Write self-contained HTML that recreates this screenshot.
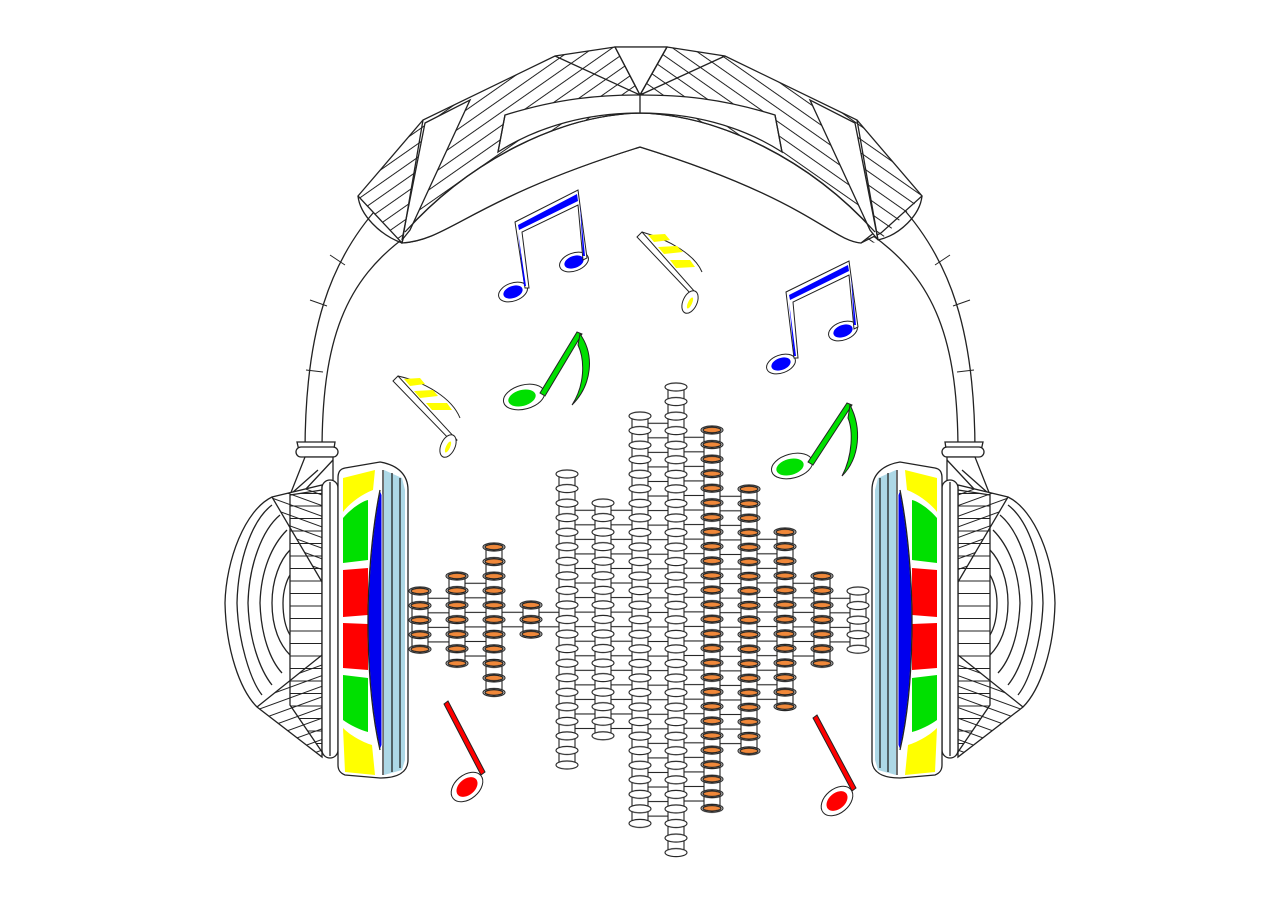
<!DOCTYPE html>
<html><head><meta charset="utf-8"><style>html,body{margin:0;padding:0;background:#fff}svg{display:block}</style></head>
<body>
<svg width="1280" height="905" viewBox="0 0 1280 905" xmlns="http://www.w3.org/2000/svg" fill="none" stroke="#222" stroke-width="1.3">
<defs>
<clipPath id="padL"><path d="M358,196 L423,120 L555,56 L615,47 L640,47 L640,140 C470,200 450,240 402,243 Z"/></clipPath>
<clipPath id="padR"><path d="M922,196 L857,120 L725,56 L667,47 L640,47 L640,140 C810,200 830,240 878,243 Z"/></clipPath>
<pattern id="hatchA" patternUnits="userSpaceOnUse" width="11" height="11" patternTransform="rotate(-35)"><line x1="0" y1="5.5" x2="11" y2="5.5" stroke="#222" stroke-width="1"/></pattern>
<pattern id="hatchB" patternUnits="userSpaceOnUse" width="11" height="11" patternTransform="rotate(35)"><line x1="0" y1="5.5" x2="11" y2="5.5" stroke="#222" stroke-width="1"/></pattern>
<pattern id="hatchC" patternUnits="userSpaceOnUse" width="10" height="10" patternTransform="rotate(-20)"><line x1="0" y1="5" x2="10" y2="5" stroke="#222" stroke-width="1"/></pattern>
<pattern id="hatchD" patternUnits="userSpaceOnUse" width="10" height="10" patternTransform="rotate(20)"><line x1="0" y1="5" x2="10" y2="5" stroke="#222" stroke-width="1"/></pattern>
<pattern id="plate" patternUnits="userSpaceOnUse" width="10" height="12.5"><line x1="0" y1="6" x2="10" y2="6" stroke="#222" stroke-width="1"/></pattern>
<pattern id="dW" patternUnits="userSpaceOnUse" width="24" height="14.55">
<ellipse cx="12" cy="0" rx="11" ry="4" fill="#fff" stroke="#222" stroke-width="1.1"/>
<ellipse cx="12" cy="14.55" rx="11" ry="4" fill="#fff" stroke="#222" stroke-width="1.1"/></pattern>
<pattern id="dO" patternUnits="userSpaceOnUse" width="24" height="14.55">
<ellipse cx="12" cy="0" rx="11" ry="4" fill="#fff" stroke="#222" stroke-width="1.1"/>
<ellipse cx="12" cy="0" rx="9" ry="2.8" fill="#f0883a"/>
<ellipse cx="12" cy="14.55" rx="11" ry="4" fill="#fff" stroke="#222" stroke-width="1.1"/>
<ellipse cx="12" cy="14.55" rx="9" ry="2.8" fill="#f0883a"/></pattern>
<pattern id="hl" patternUnits="userSpaceOnUse" width="10" height="14.55"><line x1="0" y1="7.27" x2="10" y2="7.27" stroke="#222" stroke-width="1.1"/></pattern>
</defs>
<!-- headband arms -->
<path d="M305,452 C305,330 330,260 380,205"/>
<path d="M322,452 C322,340 345,280 408,235"/>
<path d="M975,452 C975,330 950,260 900,205"/>
<path d="M958,452 C958,340 935,280 872,235"/>
<g stroke-width="1"><path d="M306,370 L323,372 M310,300 L327,306 M330,255 L345,265 M974,370 L957,372 M970,300 L953,306 M950,255 L935,265"/></g>
<!-- pad -->
<path fill="#fff" d="M358,196 L423,120 L555,56 L615,47 L667,47 L725,56 L857,120 L922,196 L881,233 L861,243 C830,240 810,200 640,147 C470,200 450,240 402,243 Z"/>
<rect x="340" y="40" width="300" height="210" fill="url(#hatchA)" stroke="none" clip-path="url(#padL)"/>
<rect x="640" y="40" width="300" height="210" fill="url(#hatchB)" stroke="none" clip-path="url(#padR)"/>
<path fill="#fff" d="M405,232 C470,160 560,115 640,113 C720,115 810,160 875,232 L861,243 C830,240 810,200 640,147 C470,200 450,240 402,243 Z"/>
<path fill="#fff" d="M498,152 L505,115 C560,98 600,95 640,95 C680,95 720,98 775,115 L782,152 C740,125 690,113 640,113 C590,113 540,125 498,152 Z"/>
<path fill="#fff" d="M615,47 L640,95 L667,47 Z"/>
<path fill="#fff" d="M425,123 L470,100 L410,230 L402,240 Z M855,123 L810,100 L870,230 L878,240 Z"/>
<path d="M402,243 C380,235 360,215 358,196 M402,243 L423,120 M878,240 L857,120 M405,232 C470,160 560,115 640,113 C720,115 810,160 875,232 M555,56 L640,95 L725,56 M615,47 L640,95 L667,47 M640,95 L640,113 M498,152 L505,115 M782,152 L775,115 M922,196 C920,215 900,235 878,240"/>
<!-- equalizer connectors -->
<g stroke="none">
<rect transform="translate(428,591)" width="21" height="58" fill="url(#hl)"/>
<rect transform="translate(465,576)" width="21" height="87" fill="url(#hl)"/>
<rect transform="translate(502,605)" width="21" height="29" fill="url(#hl)"/>
<rect transform="translate(539,605)" width="20" height="29" fill="url(#hl)"/>
<rect transform="translate(575,503)" width="20" height="234" fill="url(#hl)"/>
<rect transform="translate(611,503)" width="21" height="234" fill="url(#hl)"/>
<rect transform="translate(648,416)" width="20" height="408" fill="url(#hl)"/>
<rect transform="translate(684,430)" width="20" height="380" fill="url(#hl)"/>
<rect transform="translate(720,489)" width="21" height="263" fill="url(#hl)"/>
<rect transform="translate(757,532)" width="20" height="176" fill="url(#hl)"/>
<rect transform="translate(793,576)" width="21" height="87" fill="url(#hl)"/>
<rect transform="translate(830,591)" width="20" height="58" fill="url(#hl)"/>
</g>
<g stroke-width="1.1">
<path d="M412,591V649M428,591V649 M449,576V663M465,576V663 M486,547V692M502,547V692 M523,605V634M539,605V634 M559,474V766M575,474V766 M595,503V737M611,503V737 M632,416V824M648,416V824 M668,387V853M684,387V853 M704,430V810M720,430V810 M741,489V752M757,489V752 M777,532V708M793,532V708 M814,576V663M830,576V663 M850,591V649M866,591V649"/>
</g>
<g stroke="none">
<rect transform="translate(408,591)" y="-6" width="24" height="70" fill="url(#dO)"/>
<rect transform="translate(445,576)" y="-6" width="24" height="99" fill="url(#dO)"/>
<rect transform="translate(482,547)" y="-6" width="24" height="157" fill="url(#dO)"/>
<rect transform="translate(519,605)" y="-6" width="24" height="41" fill="url(#dO)"/>
<rect transform="translate(555,474)" y="-6" width="24" height="304" fill="url(#dW)"/>
<rect transform="translate(591,503)" y="-6" width="24" height="246" fill="url(#dW)"/>
<rect transform="translate(628,416)" y="-6" width="24" height="420" fill="url(#dW)"/>
<rect transform="translate(664,387)" y="-6" width="24" height="478" fill="url(#dW)"/>
<rect transform="translate(700,430)" y="-6" width="24" height="392" fill="url(#dO)"/>
<rect transform="translate(737,489)" y="-6" width="24" height="275" fill="url(#dO)"/>
<rect transform="translate(773,532)" y="-6" width="24" height="188" fill="url(#dO)"/>
<rect transform="translate(810,576)" y="-6" width="24" height="99" fill="url(#dO)"/>
<rect transform="translate(846,591)" y="-6" width="24" height="70" fill="url(#dW)"/>
</g>
<!-- earcup -->
<g id="cupL">
<path fill="#fff" d="M300,455 L297,442 L335,442 L333,455 Z"/>
<rect x="296" y="447" width="42" height="10" rx="5" fill="#fff"/>
<path fill="#fff" d="M305,457 L333,457 L333,490 L290,495 Z"/>
<path d="M305,490 L333,460 M292,493 L318,470"/>
<path fill="#fff" d="M272,497 C245,510 226,560 225,603 C226,650 240,690 257,707 L322,757 L322,485 Z"/>
<path d="M237,603 C238,560 252,520 272,505 M248,603 C249,565 262,530 280,515 M260,603 C261,570 272,545 287,530 M272,603 C272,580 280,560 290,550 M283,603 C283,590 287,580 290,575 M237,603 C238,640 250,680 262,695 M248,603 C249,640 260,670 272,685 M260,603 C261,635 270,660 282,673 M272,603 C272,628 280,645 290,655 M283,603 C283,620 287,630 290,635"/>
<path fill="#fff" d="M290,495 L322,490 L322,752 L290,705 Z"/>
<path fill="url(#plate)" stroke="none" d="M290,495 L322,490 L322,752 L290,705 Z"/>
<path fill="url(#hatchD)" stroke="none" d="M272,497 L322,485 L322,582 Z"/>
<path fill="url(#hatchC)" stroke="none" d="M257,707 L322,655 L322,757 Z"/>
<path d="M272,497 L322,582 M257,707 L322,655"/>
<rect x="322" y="480" width="16" height="278" rx="8" fill="#fff"/>
<path d="M330,482 L330,756"/>
<path fill="#fff" d="M345,468 L380,462 C398,465 408,475 408,490 L408,760 C408,772 398,778 380,778 L345,775 C340,773 338,770 338,765 L338,478 C338,472 340,469 345,468 Z"/>
<path fill="#add8e6" stroke="none" d="M384,470 L402,478 L405,490 L405,760 L402,770 L384,775 Z"/>
<path d="M383,470 L383,775 M392,473 L392,772 M400,478 L400,768"/>
<path fill="#ffff00" stroke="none" d="M343,478 L375,470 L373,490 C360,495 348,505 343,512 Z"/>
<path fill="#00e000" stroke="none" d="M343,518 C350,510 360,502 368,500 L368,560 L343,563 Z"/>
<path fill="#ff0000" stroke="none" d="M343,570 L368,568 L368,615 L343,617 Z M343,623 L368,624 L368,670 L343,668 Z"/>
<path fill="#00e000" stroke="none" d="M343,675 L368,678 L368,732 C360,730 350,725 343,720 Z"/>
<path fill="#ffff00" stroke="none" d="M343,728 C350,735 362,742 372,745 L375,775 L345,772 Z"/>
<path fill="#0000ee" stroke="#fff" stroke-width="1" d="M380,490 C372,530 368,580 368,620 C368,670 372,715 380,750 L382,745 L382,495 Z"/>
<path d="M380,490 C372,530 368,580 368,620 C368,670 372,715 380,750"/>
</g>
<use href="#cupL" transform="translate(1280,0) scale(-1,1)"/>
<!-- notes -->
<g stroke="#222" stroke-width="1">
<ellipse cx="513" cy="292" rx="15" ry="9" transform="rotate(-20 513 292)" fill="#fff"/>
<ellipse cx="513" cy="292" rx="10" ry="6" transform="rotate(-20 513 292)" fill="#00f" stroke="none"/>
<ellipse cx="574" cy="262" rx="15" ry="9" transform="rotate(-20 574 262)" fill="#fff"/>
<ellipse cx="574" cy="262" rx="10" ry="6" transform="rotate(-20 574 262)" fill="#00f" stroke="none"/>
<path fill="#fff" d="M515,222 L578,190 L587,258 L583,260 L578,205 L522,232 L529,288 L525,288 Z"/>
<path fill="#00f" stroke="none" d="M518,225 L577,194 L578,201 L519,230 Z M518,232 L526,286 L524,286 Z M580,205 L585,256 L583,256 Z"/>
<ellipse cx="781" cy="364" rx="15" ry="9" transform="rotate(-20 781 364)" fill="#fff"/>
<ellipse cx="781" cy="364" rx="10" ry="6" transform="rotate(-20 781 364)" fill="#00f" stroke="none"/>
<ellipse cx="843" cy="331" rx="15" ry="9" transform="rotate(-20 843 331)" fill="#fff"/>
<ellipse cx="843" cy="331" rx="10" ry="6" transform="rotate(-20 843 331)" fill="#00f" stroke="none"/>
<path fill="#fff" d="M786,292 L849,261 L858,327 L854,329 L849,275 L793,302 L798,358 L794,358 Z"/>
<path fill="#00f" stroke="none" d="M789,295 L848,265 L849,271 L790,300 Z M789,302 L796,356 L794,356 Z M851,275 L856,325 L854,325 Z"/>
<path fill="#fff" d="M637,237 L642,232 L695,292 L692,295 Z"/>
<path d="M642,232 C670,240 695,255 702,272"/>
<path fill="#ff0" stroke="none" d="M648,235 L665,234 L670,240 L654,242 Z M658,247 L677,246 L683,252 L664,254 Z M670,260 L690,260 L695,267 L676,268 Z"/>
<ellipse cx="690" cy="302" rx="7" ry="12" transform="rotate(25 690 302)" fill="#fff"/>
<ellipse cx="690" cy="303" rx="2" ry="6" transform="rotate(25 690 303)" fill="#ff0" stroke="none"/>
<path fill="#fff" d="M393,381 L398,376 L457,440 L453,443 Z"/>
<path d="M398,376 C425,382 452,398 460,418"/>
<path fill="#ff0" stroke="none" d="M404,379 L420,378 L425,384 L410,386 Z M414,391 L433,390 L438,396 L420,398 Z M426,403 L447,403 L452,410 L432,410 Z"/>
<ellipse cx="448" cy="446" rx="7" ry="12" transform="rotate(25 448 446)" fill="#fff"/>
<ellipse cx="448" cy="447" rx="2" ry="6" transform="rotate(25 448 447)" fill="#ff0" stroke="none"/>
<ellipse cx="524" cy="397" rx="21" ry="12" transform="rotate(-15 524 397)" fill="#fff"/>
<ellipse cx="522" cy="398" rx="14" ry="8" transform="rotate(-15 522 398)" fill="#00e000" stroke="none"/>
<path fill="#00e000" d="M540,393 L577,332 L582,334 L545,396 Z"/>
<path fill="#00e000" d="M580,334 C595,355 592,385 572,405 C585,385 585,360 578,345 Z"/>
<ellipse cx="792" cy="466" rx="21" ry="12" transform="rotate(-15 792 466)" fill="#fff"/>
<ellipse cx="790" cy="467" rx="14" ry="8" transform="rotate(-15 790 467)" fill="#00e000" stroke="none"/>
<path fill="#00e000" d="M808,462 L847,403 L852,405 L813,465 Z"/>
<path fill="#00e000" d="M850,405 C862,428 860,458 842,476 C853,455 853,430 848,418 Z"/>
<path fill="#ff0000" d="M444,704 L448,701 L485,772 L481,775 Z"/>
<ellipse cx="467" cy="787" rx="18" ry="12" transform="rotate(-40 467 787)" fill="#fff"/>
<ellipse cx="467" cy="787" rx="12" ry="8" transform="rotate(-40 467 787)" fill="#f00" stroke="none"/>
<path fill="#ff0000" d="M813,718 L817,715 L856,788 L852,791 Z"/>
<ellipse cx="837" cy="801" rx="18" ry="12" transform="rotate(-40 837 801)" fill="#fff"/>
<ellipse cx="837" cy="801" rx="12" ry="8" transform="rotate(-40 837 801)" fill="#f00" stroke="none"/>
</g>
</svg>
</body></html>
